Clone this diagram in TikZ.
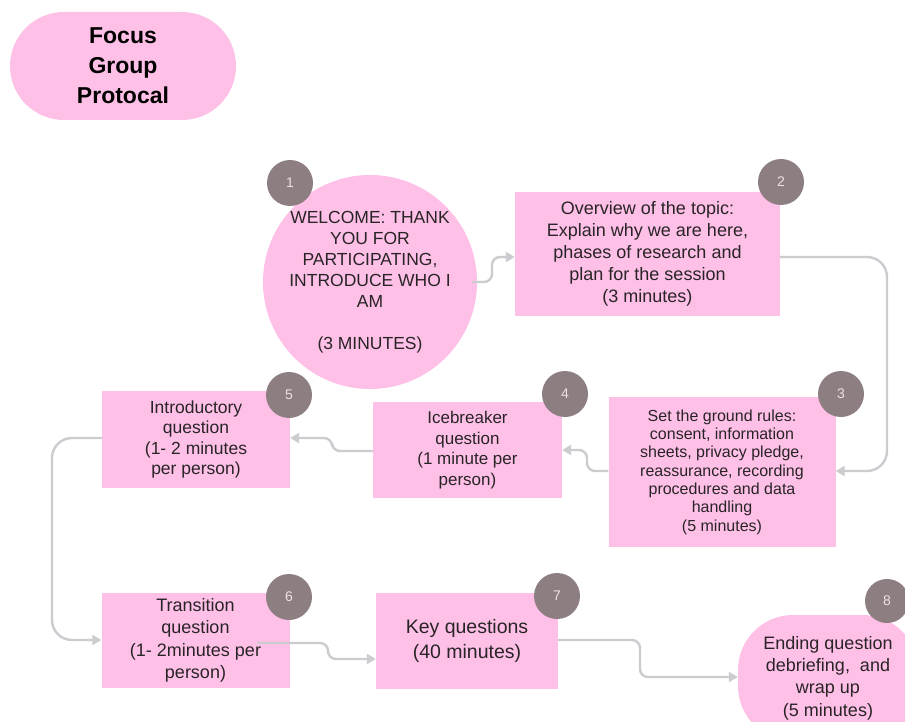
\documentclass[tikz,border=0pt]{standalone}
\usepackage{fontspec}
\setmainfont{Liberation Sans}
\usetikzlibrary{arrows.meta}

\definecolor{stepfill}{RGB}{255,192,231}
\definecolor{badgefill}{RGB}{141,126,130}
\definecolor{badgetext}{RGB}{236,226,228}
\definecolor{linkgray}{RGB}{204,204,208}
\definecolor{bodytext}{RGB}{40,36,38}

\tikzset{
  stepbox/.style={draw=none, fill=stepfill, rectangle, inner sep=0pt,
    align=center, text=bodytext},
  badge/.style={circle, fill=badgefill, draw=none, minimum size=46pt,
    inner sep=0pt, text=badgetext, font=\fontsize{14}{16}\selectfont},
  link/.style={draw=linkgray, line width=2.4pt, rounded corners=8pt,
    -{Triangle[length=9pt,width=10pt]}},
  bigturn/.style={link, rounded corners=20pt},
}

\begin{document}
\begin{tikzpicture}[x=1pt, y=-1pt]
\clip (0,0) rectangle (905,722);
\fill[white] (0,0) rectangle (905,722);

% title
\node[stepbox, minimum width=226pt, minimum height=108pt, rounded corners=54pt,
  text=black, font=\fontsize{23}{30}\selectfont\bfseries] (title) at (123,66)
  {Focus\\Group\\Protocal};

% steps
\node[stepbox, circle, minimum size=208pt, font=\fontsize{17.5}{21}\selectfont]
  (s1) at (370,282)
  {WELCOME: THANK\\YOU FOR\\PARTICIPATING,\\INTRODUCE WHO I\\AM\\[21pt](3 MINUTES)};

\node[stepbox, minimum width=265pt, minimum height=124pt,
  font=\fontsize{18}{22}\selectfont] (s2) at (647.5,254)
  {Overview of the topic:\\Explain why we are here,\\phases of research and\\plan for the session\\(3 minutes)};

\node[stepbox, minimum width=227pt, minimum height=150pt,
  font=\fontsize{16}{18.3}\selectfont] (s3) at (722,472)
  {Set the ground rules:\\consent, information\\sheets, privacy pledge,\\reassurance, recording\\procedures and data\\handling\\(5 minutes)};

\node[stepbox, minimum width=189pt, minimum height=96pt,
  font=\fontsize{17}{20.5}\selectfont] (s4) at (467.5,450)
  {Icebreaker\\question\\(1 minute per\\person)};

\node[stepbox, minimum width=188pt, minimum height=97pt,
  font=\fontsize{17.5}{20.5}\selectfont] (s5) at (196,439.5)
  {Introductory\\question\\(1- 2 minutes\\per person)};

\node[stepbox, minimum width=188pt, minimum height=95pt,
  font=\fontsize{18}{22.5}\selectfont] (s6) at (195.5,640.5)
  {Transition\\question\\(1- 2minutes per\\person)};

\node[stepbox, minimum width=182pt, minimum height=96pt,
  font=\fontsize{19.5}{25}\selectfont] (s7) at (467,641)
  {Key questions\\(40 minutes)};

\node[stepbox, minimum width=180pt, minimum height=126pt, rounded corners=55pt,
  font=\fontsize{18}{22.3}\selectfont] (s8) at (828,678)
  {Ending question\\debriefing,\ \ and\\wrap up\\(5 minutes)};

% numbered badges
\node[badge] (b1) at (290,183) {1};
\node[badge] (b2) at (781,182) {2};
\node[badge] (b3) at (841,394) {3};
\node[badge] (b4) at (565,394) {4};
\node[badge] (b5) at (289,395) {5};
\node[badge] (b6) at (289,597) {6};
\node[badge] (b7) at (557,596) {7};
\node[badge, minimum size=44pt] (b8) at (887,601) {8};

% connectors
\coordinate (c1) at (472,282);
\coordinate (c6) at (257,643);
\draw[link] (c1) -- (492,282) -- (492,257) -- (s2.west |- 0,257);
\draw[bigturn] (s2.east |- 0,257) -- (887,257) -- (887,471) -- (s3.east |- 0,471);
\draw[link] (s3.west |- 0,471) -- (587,471) -- (587,450) -- (s4.east |- 0,450);
\draw[link] (s4.west |- 0,451) -- (332,451) -- (332,438) -- (s5.east |- 0,438);
\draw[bigturn] (s5.west |- 0,438) -- (52,438) -- (52,640) -- (s6.west |- 0,640);
\draw[link] (c6) -- (328,643) -- (328,659) -- (s7.west |- 0,659);
\draw[link] (s7.east |- 0,640) -- (640,640) -- (640,677) -- (s8.west |- 0,677);
\end{tikzpicture}
\end{document}
